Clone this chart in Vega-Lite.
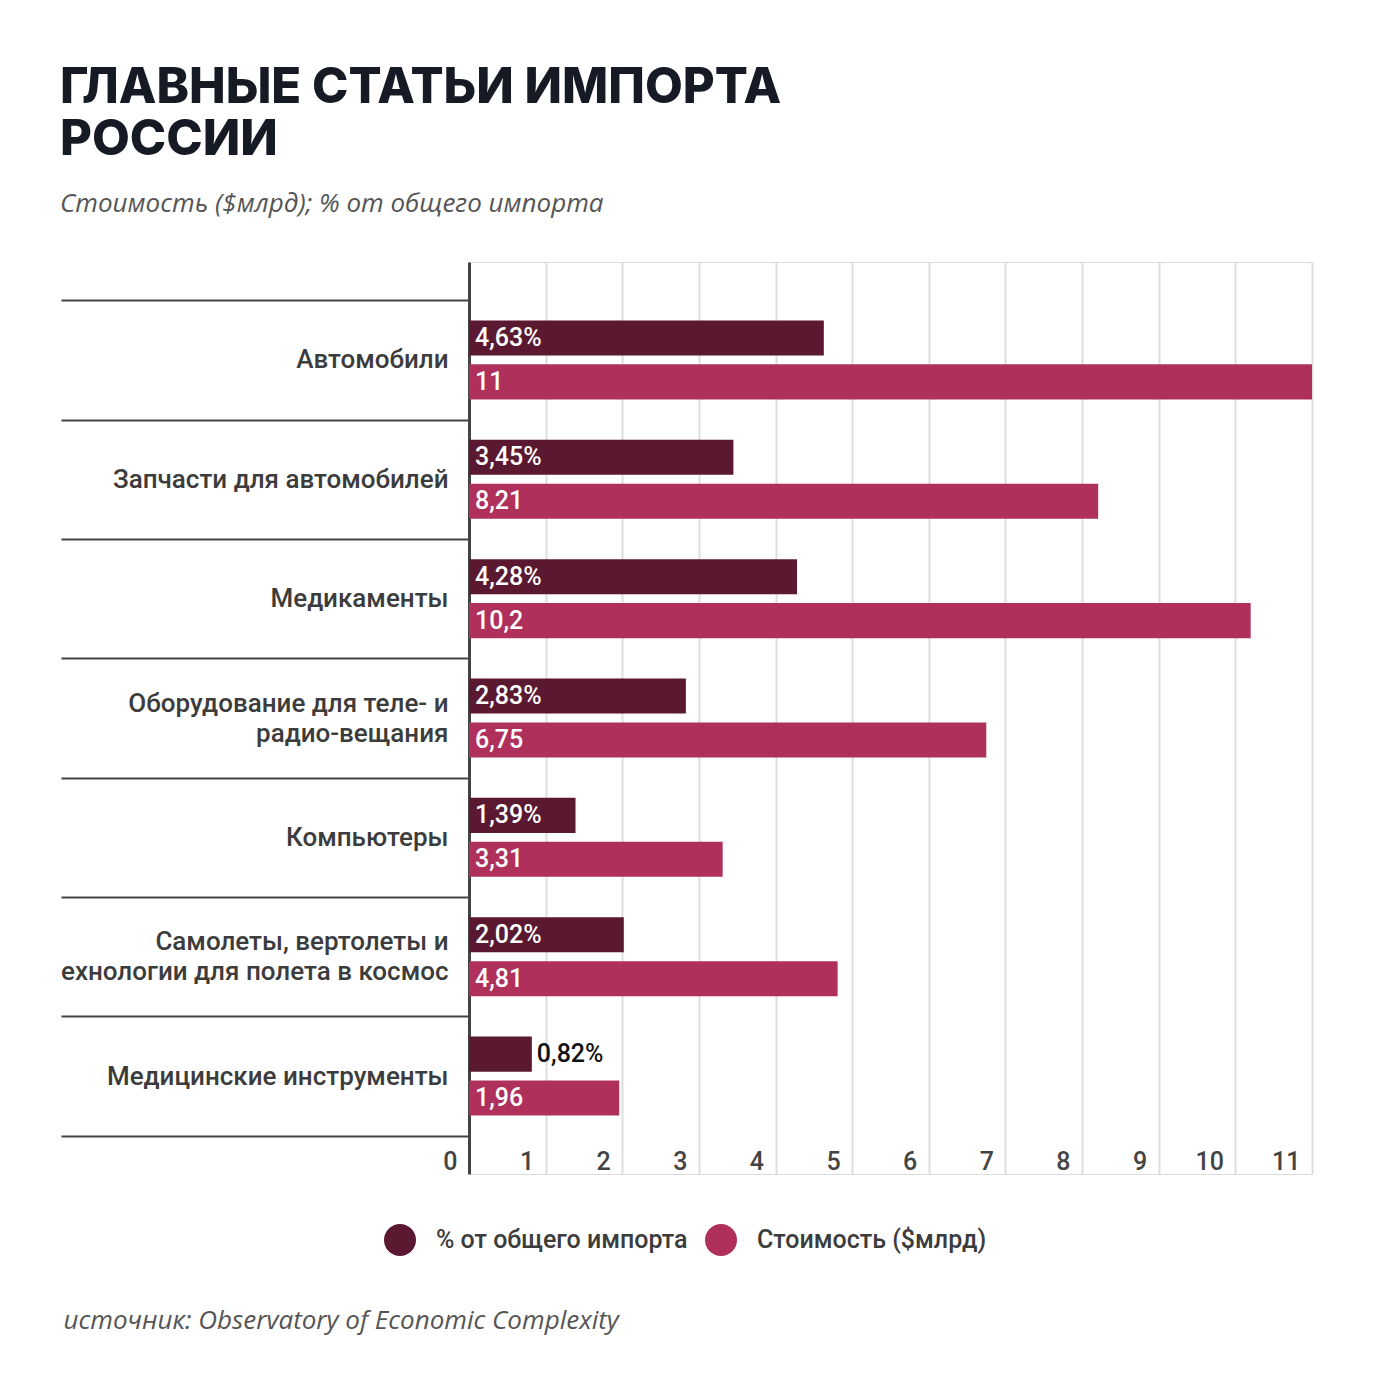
{
  "$schema": "https://vega.github.io/schema/vega-lite/v6.json",
  "width": 843,
  "height": 912,
  "padding": {"left": 60, "top": 64, "right": 40, "bottom": 40},
  "background": "white",
  "title": {
    "text": ["ГЛАВНЫЕ СТАТЬИ ИМПОРТА", "РОССИИ"],
    "subtitle": "Стоимость ($млрд); % от общего импорта",
    "anchor": "start",
    "frame": "bounds",
    "font": "Inter",
    "fontSize": 49,
    "fontWeight": 800,
    "color": "#161a25",
    "lineHeight": 52,
    "subtitleFont": "Open Sans",
    "subtitleFontStyle": "italic",
    "subtitleFontSize": 26,
    "subtitleColor": "#555555",
    "subtitlePadding": 26,
    "offset": 32
  },
  "data": {
    "values": [
      {"category": "Автомобили", "metric": "% от общего импорта", "value": 4.63},
      {"category": "Автомобили", "metric": "Стоимость ($млрд)", "value": 11},
      {"category": "Запчасти для автомобилей", "metric": "% от общего импорта", "value": 3.45},
      {"category": "Запчасти для автомобилей", "metric": "Стоимость ($млрд)", "value": 8.21},
      {"category": "Медикаменты", "metric": "% от общего импорта", "value": 4.28},
      {"category": "Медикаменты", "metric": "Стоимость ($млрд)", "value": 10.2},
      {"category": "Оборудование для теле- и|радио-вещания", "metric": "% от общего импорта", "value": 2.83},
      {"category": "Оборудование для теле- и|радио-вещания", "metric": "Стоимость ($млрд)", "value": 6.75},
      {"category": "Компьютеры", "metric": "% от общего импорта", "value": 1.39},
      {"category": "Компьютеры", "metric": "Стоимость ($млрд)", "value": 3.31},
      {"category": "Самолеты, вертолеты и|ехнологии для полета в космос", "metric": "% от общего импорта", "value": 2.02},
      {"category": "Самолеты, вертолеты и|ехнологии для полета в космос", "metric": "Стоимость ($млрд)", "value": 4.81},
      {"category": "Медицинские инструменты", "metric": "% от общего импорта", "value": 0.82},
      {"category": "Медицинские инструменты", "metric": "Стоимость ($млрд)", "value": 1.96}
    ]
  },
  "transform": [
    {"calculate": "replace(format(datum.value, '~g'), '.', ',') + (datum.metric === '% от общего импорта' ? '%' : '')", "as": "label"}
  ],
  "encoding": {
    "y": {
      "field": "category",
      "type": "nominal",
      "sort": null,
      "scale": {"paddingInner": 0, "paddingOuter": 0.32},
      "axis": {
        "title": null,
        "domainColor": "#444444",
        "domainWidth": 3,
        "tickBand": "extent",
        "tickSize": 408,
        "tickColor": "#444444",
        "tickWidth": 2,
        "labelPadding": -387,
        "labelAlign": "right",
        "labelBaseline": "middle",
        "labelOffset": {"condition": {"test": "indexof(datum.label, '|') >= 0", "value": -15}, "value": 0},
        "labelFont": "Roboto",
        "labelFontSize": 26,
        "labelFontWeight": 500,
        "labelColor": "#3c3c3c",
        "labelExpr": "split(datum.label, '|')",
        "labelLineHeight": 30,
        "labelLimit": 0,
        "grid": false
      }
    },
    "yOffset": {
      "field": "metric",
      "type": "nominal",
      "sort": ["% от общего импорта", "Стоимость ($млрд)"],
      "scale": {"paddingInner": 0.2, "paddingOuter": 0.46}
    }
  },
  "layer": [
    {
      "mark": {"type": "bar"},
      "encoding": {
        "x": {
          "field": "value",
          "type": "quantitative",
          "scale": {"domain": [0, 11], "nice": false, "zero": true},
          "axis": {
            "title": "источник: Observatory of Economic Complexity",
            "values": [0, 1, 2, 3, 4, 5, 6, 7, 8, 9, 10, 11],
            "format": "d",
            "domain": false,
            "ticks": false,
            "tickSize": 0,
            "grid": true,
            "gridColor": "#dddddd",
            "gridWidth": 2,
            "labelAlign": "right",
            "labelBaseline": "alphabetic",
            "labelOffset": -12,
            "labelPadding": -5,
            "labelFlush": false,
            "labelOverlap": false,
            "labelFont": "Roboto",
            "labelFontSize": 25,
            "labelFontWeight": 500,
            "labelColor": "#444444",
            "titleFont": "Open Sans",
            "titleFontStyle": "italic",
            "titleFontWeight": "normal",
            "titleFontSize": 26,
            "titleColor": "#555555",
            "titleAnchor": "start",
            "titleAlign": "left",
            "titleBaseline": "alphabetic",
            "titleX": -406,
            "titleY": 154
          }
        },
        "color": {
          "field": "metric",
          "type": "nominal",
          "sort": ["% от общего импорта", "Стоимость ($млрд)"],
          "scale": {"range": ["#5a1931", "#b0305c"]},
          "legend": {
            "title": null,
            "orient": "none",
            "direction": "horizontal",
            "legendX": -85,
            "legendY": 962,
            "symbolType": "circle",
            "symbolSize": 1024,
            "symbolStrokeWidth": 0,
            "labelFont": "Roboto",
            "labelFontSize": 25,
            "labelFontWeight": 500,
            "labelColor": "#3c3c3c",
            "labelOffset": 20,
            "columnPadding": 17,
            "labelLimit": 0
          }
        }
      }
    },
    {
      "transform": [{"filter": "datum.value >= 1"}],
      "mark": {"type": "text", "align": "left", "baseline": "middle", "dx": 6, "color": "white", "font": "Roboto", "fontSize": 25, "fontWeight": 500},
      "encoding": {
        "x": {"datum": 0, "type": "quantitative"},
        "text": {"field": "label"}
      }
    },
    {
      "transform": [{"filter": "datum.value < 1"}],
      "mark": {"type": "text", "align": "left", "baseline": "middle", "dx": 5, "color": "#111111", "font": "Roboto", "fontSize": 25, "fontWeight": 500},
      "encoding": {
        "x": {"field": "value", "type": "quantitative"},
        "text": {"field": "label"}
      }
    }
  ]
}
